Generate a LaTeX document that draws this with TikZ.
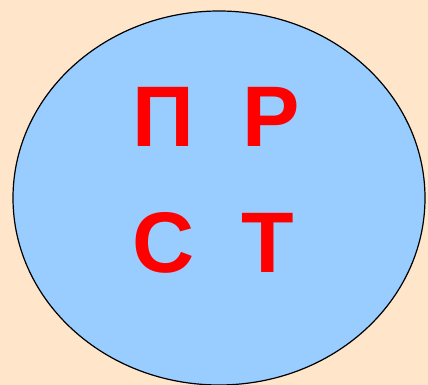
\documentclass[tikz,border=0pt]{standalone}
\usepackage{fontspec}
\setmainfont{Liberation Sans}
\usepackage{xcolor}
\definecolor{peach}{HTML}{FFE5C9}
\definecolor{sky}{HTML}{99CCFF}
\definecolor{letter}{HTML}{FF0000}
\begin{document}
\begin{tikzpicture}[x=1pt,y=1pt,
  lettr/.style={anchor=base,inner sep=0pt,text=letter,font=\fontsize{86}{86}\selectfont\bfseries}]
  \fill[peach](0,0)rectangle(428,385);
  \useasboundingbox(0,0)rectangle(428,385);
  \draw[sky,fill=sky](219,187)ellipse[x radius=206,y radius=187];
  \draw[black,line width=1.2pt](219,187)ellipse[x radius=206,y radius=187];
  \node[lettr](pe) at (163,238){П};
  \node[lettr](er) at (271,238){Р};
  \node[lettr](es) at (163.5,112){С};
  \node[lettr](te) at (267.5,112){Т};
\end{tikzpicture}
\end{document}
